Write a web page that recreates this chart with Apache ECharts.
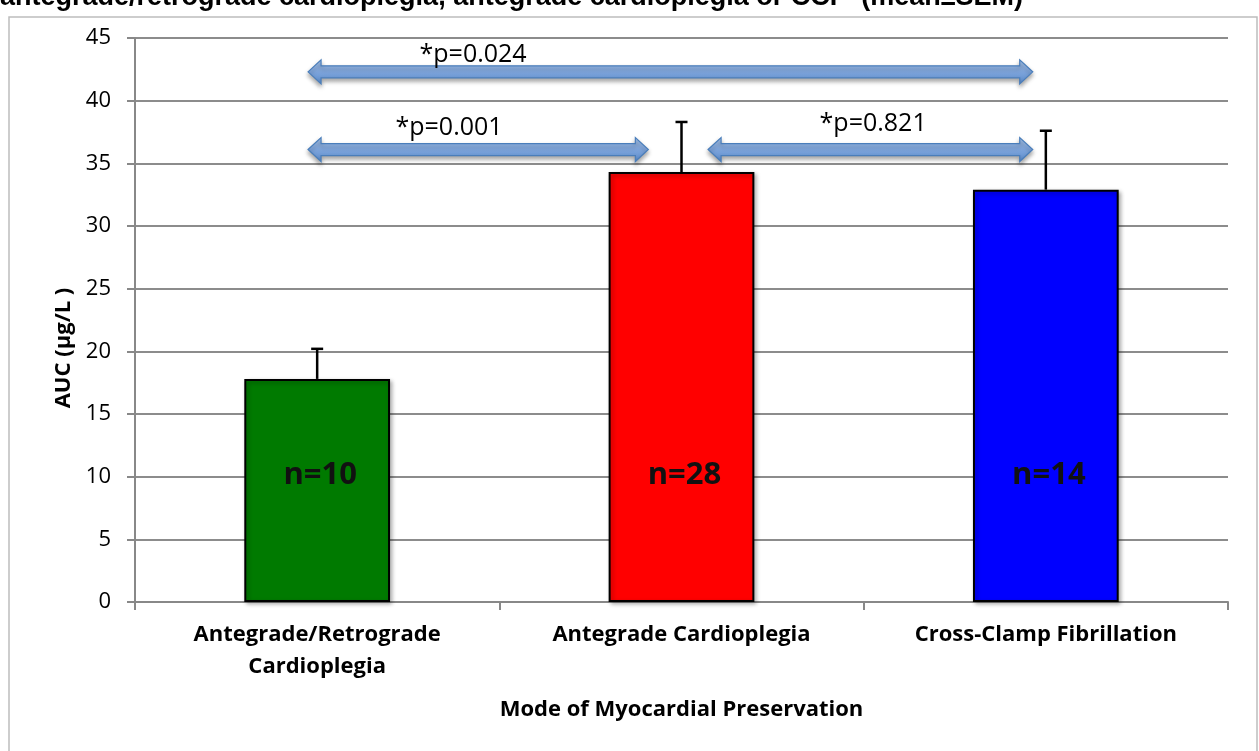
<!DOCTYPE html>
<html><head><meta charset="utf-8">
<script src="https://cdn.jsdelivr.net/npm/echarts@6/dist/echarts.min.js"></script>
<style>html,body{margin:0;padding:0;background:#fff}#c{width:1259px;height:751px}</style>
</head><body><div id="c"></div>
<script>
const categories = ['Antegrade/Retrograde\nCardioplegia', 'Antegrade Cardioplegia', 'Cross-Clamp Fibrillation'];
const means = [17.8, 34.3, 32.9];
const errUpper = [20.2, 38.3, 37.6];
const nLabels = ['n=10', 'n=28', 'n=14'];
const nLabelY = [10.1, 10.1, 10.1];
const barColors = ['#007a00', '#ff0000', '#0000ff'];
// comparison arrows: start / end (category units), y value, label
const arrowStart = [-0.025, -0.025, 1.073];
const arrowEnd = [1.964, 0.909, 1.964];
const arrowY = [42.3, 36.1, 36.1];
const arrowLabels = ['*p=0.024', '*p=0.001', '*p=0.821'];
const arrowLabelX = [0.428, 0.362, 1.526];
const arrowLabelY = [43.65, 37.8, 38.15];
const yTicks = [0, 5, 10, 15, 20, 25, 30, 35, 40, 45];

const FONT = '"Open Sans", sans-serif';
const chart = echarts.init(document.getElementById('c'));

function lerpX(api, v) {
  const p0 = api.coord([0, 0]);
  const p1 = api.coord([1, 0]);
  return p0[0] + (p1[0] - p0[0]) * v;
}

const option = {
  animation: false,
  backgroundColor: '#fff',
  graphic: [
    { type: 'rect', shape: { x: 9, y: 17, width: 1248, height: 760 }, style: { fill: 'none', stroke: '#bdbdbd', lineWidth: 1.5 }, z: -1 },
    { type: 'text', x: 0, y: 11, style: { text: 'antegrade/retrograde cardioplegia, antegrade cardioplegia or CCF  (mean±SEM)', font: 'bold 27px "Liberation Sans", Arial, sans-serif', fill: '#000', verticalAlign: 'bottom' } }
  ],
  grid: { left: 135, right: 31, top: 38, bottom: 149, containLabel: false },
  xAxis: {
    type: 'category', data: categories,
    name: 'Mode of Myocardial Preservation', nameLocation: 'middle', nameGap: 97,
    nameTextStyle: { fontFamily: FONT, fontWeight: 'bold', fontSize: 22, color: '#000' },
    axisLine: { lineStyle: { color: '#888', width: 2 } },
    axisTick: { show: true, length: 8, alignWithLabel: false, lineStyle: { color: '#888', width: 2 } },
    axisLabel: { fontFamily: FONT, fontWeight: 'bold', fontSize: 22, color: '#000', lineHeight: 32, margin: 17, interval: 0 }
  },
  yAxis: {
    type: 'value', min: 0, max: 45, interval: 5,
    name: 'AUC (µg/L )', nameLocation: 'middle', nameGap: 59, nameRotate: 90,
    nameTextStyle: { fontFamily: FONT, fontWeight: 'bold', fontSize: 22, color: '#000', padding: [0, 56, 0, 0] },
    axisLine: { show: true, lineStyle: { color: '#888', width: 2 } },
    axisTick: { show: true, length: 8, lineStyle: { color: '#888', width: 2 } },
    axisLabel: { fontFamily: FONT, fontSize: 22, color: '#000', margin: 24,
      formatter: v => yTicks.includes(v) ? String(v) : '' },
    splitLine: { lineStyle: { color: '#8c8c8c', width: 2 } }
  },
  series: [
    {
      type: 'bar', barWidth: '40%',
      data: means.map((v, i) => ({ value: v, itemStyle: { color: barColors[i] } })),
      itemStyle: { borderColor: '#000', borderWidth: 2, shadowColor: 'rgba(0,0,0,0.3)', shadowBlur: 4, shadowOffsetX: 2, shadowOffsetY: 2 },
      z: 2
    },
    {
      type: 'custom', z: 3,
      data: nLabels.map((t, i) => [i, nLabelY[i]]),
      renderItem: (params, api) => {
        const p = api.coord([api.value(0), api.value(1)]);
        return { type: 'text', x: p[0] + 3, y: p[1], style: { text: nLabels[params.dataIndex], align: 'center', verticalAlign: 'middle', font: 'bold 31px ' + FONT, fill: '#111' } };
      }
    },
    {
      type: 'custom', z: 3,
      data: means.map((m, i) => [i, m, errUpper[i]]),
      renderItem: (params, api) => {
        const lo = api.coord([api.value(0), api.value(1)]);
        const hi = api.coord([api.value(0), api.value(2)]);
        return { type: 'group', children: [
          { type: 'line', shape: { x1: lo[0], y1: lo[1], x2: hi[0], y2: hi[1] }, style: { stroke: '#000', lineWidth: 2.5 } },
          { type: 'line', shape: { x1: hi[0] - 6, y1: hi[1], x2: hi[0] + 6, y2: hi[1] }, style: { stroke: '#000', lineWidth: 2.5 } }
        ]};
      }
    },
    {
      type: 'custom', z: 4,
      data: arrowY.map((y, i) => [arrowStart[i], arrowEnd[i], y]),
      renderItem: (params, api) => {
        const x1 = lerpX(api, api.value(0));
        const x2 = lerpX(api, api.value(1));
        const yc = api.coord([0, api.value(2)])[1];
        const sh = 6, hh = 12, hl = 13;
        const pts = [
          [x1, yc], [x1 + hl, yc - hh], [x1 + hl, yc - sh], [x2 - hl, yc - sh], [x2 - hl, yc - hh],
          [x2, yc], [x2 - hl, yc + hh], [x2 - hl, yc + sh], [x1 + hl, yc + sh], [x1 + hl, yc + hh]
        ];
        return { type: 'polygon', shape: { points: pts }, style: {
          fill: new echarts.graphic.LinearGradient(0, 0, 0, 1, [
            { offset: 0, color: '#a9c6ec' }, { offset: 0.5, color: '#7ea5dc' }, { offset: 1, color: '#5b8ccc' }
          ]),
          stroke: '#4a7ebb', lineWidth: 1.2,
          shadowColor: 'rgba(0,0,0,0.35)', shadowBlur: 4, shadowOffsetY: 3
        }};
      }
    },
    {
      type: 'custom', z: 5,
      data: arrowLabels.map((t, i) => [arrowLabelX[i], arrowLabelY[i]]),
      renderItem: (params, api) => {
        const x = lerpX(api, api.value(0));
        const y = api.coord([0, api.value(1)])[1];
        return { type: 'text', x: x, y: y, style: { text: arrowLabels[params.dataIndex], align: 'center', verticalAlign: 'middle', font: '25px ' + FONT, fill: '#000' } };
      }
    }
  ]
};
chart.setOption(option);
</script></body></html>
